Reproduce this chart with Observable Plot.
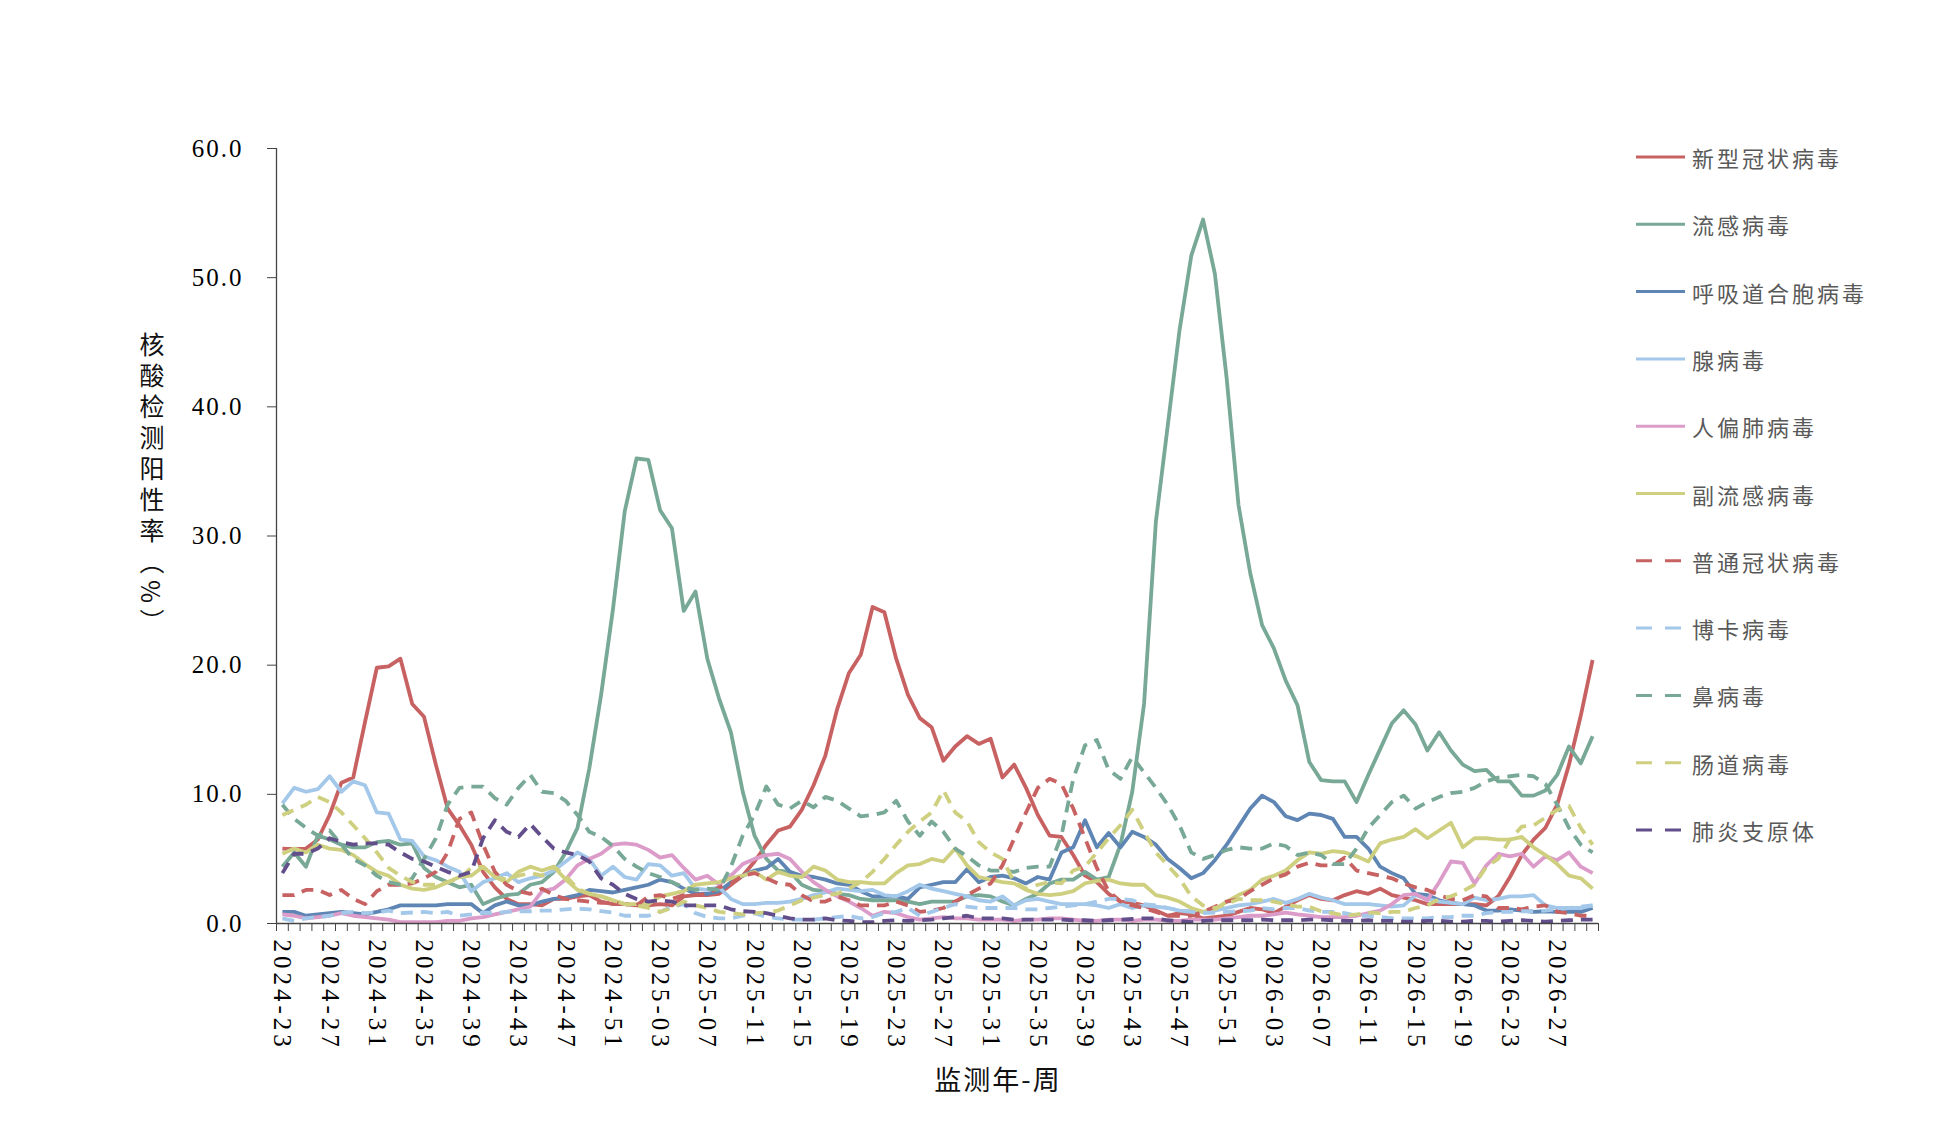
<!DOCTYPE html>
<html><head><meta charset="utf-8">
<script src="https://cdn.jsdelivr.net/npm/d3@7"></script>
<script src="https://cdn.jsdelivr.net/npm/@observablehq/plot@0.6"></script>
<style>
body{margin:0;background:#fff;}
#chart svg{display:block;}
</style></head><body><div id="chart"></div>
<script>
// ---- categories / labels ----
const seriesNames = ["新型冠状病毒","流感病毒","呼吸道合胞病毒","腺病毒","人偏肺病毒","副流感病毒","普通冠状病毒","博卡病毒","鼻病毒","肠道病毒","肺炎支原体"];
const seriesColors = ["#C86262","#78A896","#5E85B3","#A3C8EA","#DC9CC9","#CFCF80","#C86262","#A3C8EA","#78A896","#CFCF80","#634E8C"];
const seriesDashed = [false,false,false,false,false,false,true,true,true,true,true];
const yTicks = [0,10,20,30,40,50,60];
const startYear = 2024, startWeek = 23, nWeeks = 112, weeksInYear = 52;
const weekLabels = [];
{ let y = startYear, w = startWeek;
  for (let k = 0; k < nWeeks; k++) { weekLabels.push(`${y}-${String(w).padStart(2,"0")}`); w++; if (w > weeksInYear) { w = 1; y++; } } }
const labelTicks = d3.range(0, nWeeks, 4);

// ---- series values (%), one per week ----
const covid = [5.8,5.75,5.8,6.5,8.4,10.9,11.3,15.6,19.8,19.9,
 20.5,17.0,16.0,12.3,8.9,7.6,6.1,4.0,2.8,1.9,
 1.5,1.5,1.4,1.9,1.9,2.1,2.2,1.7,1.5,1.5,
 1.4,1.4,1.5,1.4,2.1,2.2,2.2,2.3,3.0,3.7,
 4.8,6.1,7.2,7.5,8.8,10.7,13.0,16.6,19.4,20.8,
 24.5,24.1,20.5,17.7,15.9,15.2,12.6,13.7,14.5,13.9,
 14.3,11.3,12.3,10.5,8.4,6.8,6.7,5.3,3.7,3.2,
 2.3,1.7,1.6,1.4,1.0,0.6,0.8,0.7,0.4,0.5,
 0.6,0.9,1.2,1.1,0.8,1.3,1.8,2.2,1.9,1.8,
 2.2,2.5,2.3,2.7,2.2,2.0,1.8,1.5,1.5,1.5,
 1.5,1.5,1.4,2.1,3.6,5.3,6.5,7.4,9.2,12.3,
 16.1,20.4];
const flu = [4.4,5.5,4.4,6.8,6.5,6.1,5.9,5.9,6.3,6.4,
 6.1,6.2,4.3,3.6,3.2,2.8,3.0,1.5,1.9,2.2,
 2.3,3.0,3.2,4.0,5.5,7.4,12.0,17.7,24.3,31.9,
 36.0,35.9,32.0,30.6,24.2,25.7,20.5,17.4,14.8,10.2,
 6.8,5.0,4.1,4.0,3.0,2.6,2.5,2.3,2.2,1.9,
 1.8,1.8,1.8,1.7,1.5,1.7,1.7,1.7,2.1,2.2,
 2.1,1.7,1.4,1.9,2.3,3.1,3.4,3.4,4.0,3.4,
 3.6,6.1,10.2,17.0,31.1,38.5,45.9,51.7,54.5,50.3,
 42.2,32.4,27.1,23.1,21.3,18.8,16.9,12.5,11.1,11.0,
 11.0,9.4,11.5,13.5,15.5,16.5,15.4,13.4,14.8,13.4,
 12.3,11.8,11.9,11.0,11.0,9.9,9.9,10.3,11.5,13.7,
 12.4,14.5];
const rsv = [0.9,0.9,0.6,0.7,0.8,0.9,0.8,0.7,0.9,1.1,
 1.4,1.4,1.4,1.4,1.5,1.5,1.5,0.8,1.4,1.7,
 1.4,1.4,1.7,1.9,2.0,2.2,2.6,2.5,2.4,2.6,
 2.8,3.0,3.4,3.2,2.7,2.3,2.3,2.5,3.2,3.7,
 4.1,4.3,5.0,4.0,3.7,3.6,3.4,3.1,3.0,2.5,
 2.1,2.1,2.1,1.9,2.8,3.0,3.2,3.2,4.2,3.2,
 3.6,3.7,3.5,3.1,3.6,3.4,5.5,5.9,8.0,5.9,
 7.0,5.9,7.1,6.7,6.1,5.0,4.3,3.5,3.9,4.9,
 6.1,7.5,8.9,9.9,9.4,8.3,8.0,8.5,8.4,8.1,
 6.7,6.7,5.8,4.4,3.9,3.5,2.3,2.2,1.8,1.6,
 1.5,1.4,1.0,1.0,1.1,1.0,0.9,0.95,0.9,0.9,
 0.9,1.2];
const adeno = [9.3,10.5,10.2,10.4,11.4,10.2,11.0,10.7,8.6,8.5,
 6.5,6.4,5.2,4.9,4.4,4.0,2.5,3.2,3.5,3.9,
 3.2,3.5,3.7,4.1,4.8,5.5,5.0,3.7,4.4,3.6,
 3.4,4.6,4.5,3.7,3.9,2.7,2.6,2.8,1.9,1.5,
 1.5,1.6,1.6,1.7,1.9,2.2,2.4,2.7,2.6,2.5,
 2.6,2.2,2.1,2.5,3.0,2.7,2.5,2.3,2.1,1.8,
 1.7,2.1,1.4,1.8,1.9,1.7,1.5,1.5,1.5,1.4,
 1.2,1.5,1.2,1.4,1.3,1.2,1.0,0.95,0.9,1.0,
 1.2,1.4,1.5,1.7,1.9,1.6,1.9,2.3,2.0,1.8,
 1.5,1.5,1.5,1.4,1.3,1.4,2.2,1.9,1.7,1.6,
 1.5,2.0,1.8,1.9,2.1,2.1,2.2,1.4,1.2,1.2,
 1.2,1.4];
const hmpv = [0.7,0.6,0.4,0.5,0.6,0.8,0.6,0.5,0.4,0.3,
 0.1,0.1,0.1,0.1,0.2,0.2,0.4,0.5,0.7,0.9,
 1.1,1.3,2.5,2.7,3.4,4.5,5.0,5.4,6.1,6.2,
 6.1,5.7,5.1,5.3,4.3,3.4,3.7,3.0,3.7,4.6,
 5.0,5.3,5.4,5.0,4.0,3.2,2.6,2.1,1.7,1.2,
 0.6,0.9,0.8,0.5,0.3,0.4,0.5,0.4,0.4,0.3,
 0.3,0.3,0.2,0.3,0.3,0.4,0.4,0.3,0.2,0.2,
 0.3,0.3,0.2,0.3,0.3,0.2,0.2,0.3,0.3,0.3,
 0.4,0.5,0.6,0.6,0.7,0.85,0.7,0.6,0.5,0.5,
 0.5,0.6,0.8,1.0,1.5,2.2,2.3,1.8,3.2,4.8,
 4.7,3.1,4.5,5.4,5.2,5.4,4.4,5.2,4.9,5.5,
 4.4,3.9];
const para = [5.4,5.8,5.5,6.1,5.8,5.7,5.3,4.6,4.0,3.7,
 3.0,2.7,2.6,2.8,3.2,3.6,3.7,4.4,3.6,3.2,
 4.0,4.4,4.1,4.4,3.4,2.6,2.3,2.1,1.8,1.5,
 1.5,1.5,2.1,2.3,2.5,3.0,3.1,3.2,3.5,3.7,
 4.0,3.4,4.0,3.7,3.6,4.4,4.1,3.4,3.2,3.2,
 3.1,3.1,3.9,4.5,4.6,5.0,4.8,5.8,4.5,3.6,
 3.4,3.2,3.1,2.6,2.3,2.2,2.3,2.5,3.1,3.3,
 3.4,3.1,3.0,3.0,2.2,2.0,1.7,1.2,0.9,1.1,
 1.7,2.2,2.6,3.4,3.7,4.1,4.9,5.5,5.4,5.6,
 5.5,5.2,4.8,6.2,6.5,6.7,7.3,6.6,7.2,7.8,
 5.9,6.6,6.6,6.5,6.5,6.7,5.9,5.3,4.6,3.7,
 3.5,2.7];
const hcov = [2.2,2.2,2.6,2.6,2.2,2.6,1.9,1.5,2.5,3.0,
 3.0,3.1,3.5,4.0,5.5,8.1,8.6,6.1,4.0,3.0,
 2.5,2.3,2.7,2.2,1.9,1.8,1.7,1.6,1.6,1.5,
 1.4,2.1,2.2,1.9,2.2,2.2,2.3,2.8,3.1,3.7,
 3.9,3.5,3.1,3.0,2.2,1.7,1.7,2.1,1.8,1.4,
 1.4,1.4,1.7,1.4,0.9,1.0,1.2,1.7,2.2,2.7,
 3.1,4.5,6.6,8.6,10.5,11.2,10.8,8.9,6.6,4.3,
 2.5,1.7,1.4,1.2,0.9,0.6,0.6,0.6,0.9,1.3,
 1.7,1.9,2.5,3.0,3.5,3.8,4.4,4.7,4.5,4.5,
 5.1,4.1,3.9,3.7,3.5,3.1,2.8,2.6,2.2,1.9,
 1.8,2.2,2.1,1.2,1.2,1.1,1.3,1.4,0.9,0.8,
 0.6,0.6];
const boca = [0.4,0.2,0.4,0.5,0.6,0.8,0.9,0.8,0.85,1.0,
 0.8,0.85,0.9,0.8,0.9,0.6,0.7,0.85,0.8,0.9,
 0.95,0.95,1.0,1.0,1.1,1.15,1.1,0.95,0.85,0.6,
 0.6,0.6,0.9,1.3,1.5,0.8,0.5,0.4,0.4,0.6,
 0.8,0.5,0.4,0.3,0.3,0.3,0.4,0.5,0.6,0.4,
 0.5,0.8,0.9,1.2,0.6,0.9,1.2,1.5,1.3,1.2,
 1.2,1.2,1.2,1.1,1.1,1.2,1.3,1.4,1.5,1.7,
 1.9,1.9,1.8,1.5,1.4,1.2,1.0,0.9,0.8,0.85,
 0.9,0.95,1.0,1.2,1.1,1.2,1.2,1.0,0.9,0.9,
 0.8,0.6,0.6,0.5,0.4,0.4,0.4,0.4,0.5,0.5,
 0.6,0.6,0.8,0.9,0.9,0.95,0.95,1.0,1.1,1.2,
 1.3,1.4];
const rhino = [9.2,8.1,7.4,6.8,7.2,6.1,5.0,4.5,3.7,3.2,
 3.0,3.5,5.0,6.6,9.2,10.5,10.6,10.6,9.7,9.2,
 10.5,11.5,10.2,10.1,9.5,8.4,7.1,6.7,6.0,5.0,
 4.4,3.9,3.6,3.2,2.8,2.6,2.7,2.6,4.4,6.8,
 8.4,10.6,9.2,8.9,9.5,9.0,9.8,9.5,8.9,8.3,
 8.4,8.6,9.5,7.9,6.8,7.9,7.1,5.8,5.2,4.5,
 4.1,4.1,4.0,4.3,4.4,4.4,6.8,11.2,13.8,14.2,
 11.9,11.2,12.9,11.7,10.5,9.2,7.6,5.5,5.0,5.3,
 5.7,5.9,5.8,5.8,6.2,6.0,5.3,5.5,5.3,4.6,
 4.6,5.8,7.4,8.4,9.4,9.9,8.9,9.4,9.8,10.1,
 10.2,10.5,11.0,11.3,11.4,11.5,11.4,10.8,9.2,7.4,
 6.1,5.5];
const entero = [8.4,8.8,9.2,9.8,9.4,8.6,7.6,6.6,5.5,4.3,
 3.7,3.2,3.0,3.0,3.2,3.5,4.3,4.4,3.6,3.4,
 3.7,3.9,3.7,4.4,3.7,2.7,2.3,2.1,1.8,1.5,
 1.4,1.2,0.9,1.2,1.7,1.4,1.2,0.9,0.8,0.7,
 0.8,0.85,1.0,1.4,1.8,2.0,2.2,2.3,2.7,3.2,
 4.0,5.0,6.1,7.1,7.9,8.6,10.3,8.6,7.9,6.3,
 5.5,5.0,3.2,2.7,3.0,3.2,3.1,4.1,4.4,5.5,
 6.6,7.6,8.8,7.1,5.5,4.5,3.5,2.1,1.4,1.2,
 1.5,1.9,1.8,1.8,1.7,1.5,1.3,1.3,0.95,0.8,
 0.6,0.7,0.85,0.8,0.9,0.9,1.2,1.4,1.9,2.1,
 2.5,3.0,4.4,5.0,6.5,7.5,7.6,8.2,8.8,9.1,
 7.4,6.1];
const myco = [3.9,5.4,5.4,5.8,6.6,6.3,6.1,6.2,6.2,6.1,
 5.5,5.0,4.8,4.4,4.0,3.7,4.0,6.6,8.0,7.1,
 6.7,7.7,6.7,5.8,5.5,5.3,4.8,3.5,3.0,2.3,
 1.9,1.7,1.8,1.7,1.4,1.4,1.4,1.4,1.1,0.95,
 0.9,0.8,0.6,0.4,0.3,0.3,0.4,0.25,0.2,0.1,
 0.1,0.2,0.25,0.2,0.25,0.3,0.4,0.5,0.6,0.4,
 0.4,0.4,0.3,0.3,0.3,0.3,0.3,0.25,0.25,0.2,
 0.25,0.3,0.35,0.4,0.4,0.25,0.2,0.1,0.2,0.25,
 0.25,0.25,0.25,0.3,0.25,0.25,0.25,0.3,0.3,0.25,
 0.2,0.2,0.25,0.2,0.2,0.15,0.15,0.2,0.2,0.15,
 0.15,0.2,0.2,0.15,0.2,0.25,0.2,0.15,0.2,0.25,
 0.3,0.3];

const seriesValues = [covid, flu, rsv, adeno, hmpv, para, hcov, boca, rhino, entero, myco];

// ---- build ----
const serif = "'Liberation Serif','Times New Roman',serif";
const cjk = "'Noto Sans CJK SC','Noto Sans',sans-serif";

const lineMarks = seriesValues.map((vals, s) =>
  Plot.line(vals.map((v, i) => ({i, v})), {
    x: "i", y: "v",
    stroke: seriesColors[s], strokeWidth: 3.8,
    strokeDasharray: seriesDashed[s] ? "12,8" : null,
    strokeLinejoin: "round", strokeLinecap: "butt"
  })
);

const chart = Plot.plot({
  width: 1947, height: 1131,
  marginLeft: 276, marginRight: 349, marginTop: 148, marginBottom: 208,
  x: {domain: [-0.5, nWeeks - 0.5], axis: null},
  y: {domain: [0, 60], axis: null},
  style: {fontFamily: serif, fontSize: "25px", color: "#000", background: "#fff"},
  marks: [
    ...lineMarks,
    Plot.axisY({ticks: yTicks, tickSize: 9, tickPadding: 24, tickFormat: d => d.toFixed(1), fontSize: 25, label: null, stroke: "#444"}),
    Plot.axisX({ticks: d3.range(-0.5, nWeeks, 1), tickSize: 8, tickFormat: () => "", label: null, stroke: "#444"}),
    Plot.axisX({ticks: labelTicks, tickSize: 0, tickPadding: 16, tickRotate: 90, tickFormat: i => weekLabels[i], fontSize: 25, label: null}),
    Plot.ruleX([-0.5], {y1: 0, y2: 60, stroke: "#444", strokeWidth: 1.3}),
    Plot.ruleY([0], {stroke: "#444", strokeWidth: 1.3})
  ]
});

const svg = d3.select(chart);
svg.selectAll('g[aria-label="x-axis tick label"] text').style("letter-spacing", "4px");
svg.selectAll('g[aria-label="y-axis tick label"] text').style("letter-spacing", "2px");

// y title (vertical)
svg.append("text")
  .attr("x", 152).attr("y", 486)
  .attr("text-anchor", "middle")
  .style("writing-mode", "vertical-rl")
  .style("font-family", cjk).style("font-size", "25px").style("letter-spacing", "6px")
  .attr("fill", "#111")
  .text("核酸检测阳性率（%）");

// x title
svg.append("text")
  .attr("x", 998).attr("y", 1078)
  .attr("text-anchor", "middle").attr("dominant-baseline", "central")
  .style("font-family", cjk).style("font-size", "27px").style("letter-spacing", "2px")
  .attr("fill", "#111")
  .text("监测年-周");

// legend
const lg = svg.append("g").attr("aria-label", "legend");
seriesNames.forEach((name, s) => {
  const y = 157 + 67.3 * s;
  lg.append("line").attr("x1", 1636).attr("x2", 1685).attr("y1", y).attr("y2", y)
    .attr("stroke", seriesColors[s]).attr("stroke-width", 3)
    .attr("stroke-dasharray", seriesDashed[s] ? "16,13" : null);
  lg.append("text").attr("x", 1692).attr("y", y)
    .attr("text-anchor", "start").attr("dominant-baseline", "central")
    .style("font-family", cjk).style("font-size", "22px").style("letter-spacing", "3px")
    .attr("fill", "#595959").text(name);
});

document.getElementById("chart").appendChild(chart);
</script>
</body></html>
